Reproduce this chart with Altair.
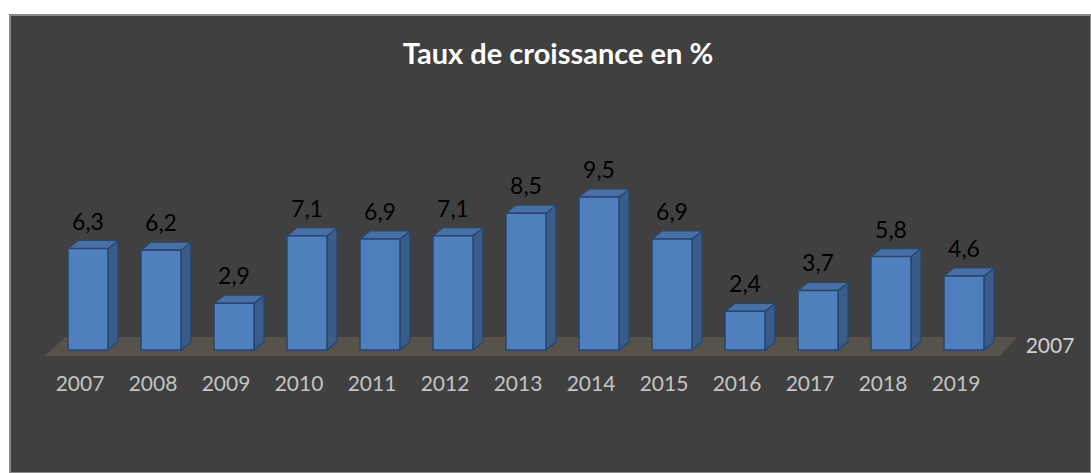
import altair as alt
import pandas as pd

# ---- data ----
years = [2007, 2008, 2009, 2010, 2011, 2012, 2013, 2014, 2015, 2016, 2017, 2018, 2019]
values = [6.3, 6.2, 2.9, 7.1, 6.9, 7.1, 8.5, 9.5, 6.9, 2.4, 3.7, 5.8, 4.6]
title_text = "Taux de croissance en %"
series_name = "2007"

# ---- geometry (in scale units) ----
HW = 0.274      # half width of a bar front face
DX = 0.137      # depth offset along x
DY = 0.5        # depth offset along y

front_rows, side_rows, top_rows = [], [], []
for i, (yr, v) in enumerate(zip(years, values)):
    front_rows.append({"i": i, "x": i - HW, "x2": i + HW, "v": v,
                       "year": str(yr), "label": f"{v:.1f}".replace(".", ",")})
    side_rows += [
        {"year": str(yr), "x": i + HW, "y": v, "y2": 0.0},
        {"year": str(yr), "x": i + HW + DX, "y": v + DY, "y2": DY},
    ]
    top_rows += [
        {"year": str(yr), "y": v, "x": i - HW, "x2": i + HW},
        {"year": str(yr), "y": v + DY, "x": i - HW + DX, "x2": i + HW + DX},
    ]

n = len(years)
floor_rows = [
    {"y": -0.37, "x": -0.59, "x2": n - 1 + 0.49},
    {"y": 0.81, "x": -0.31, "x2": n - 1 + 0.73},
]

front = pd.DataFrame(front_rows)
side = pd.DataFrame(side_rows)
top = pd.DataFrame(top_rows)
floor = pd.DataFrame(floor_rows)

W, H = 1081, 458
xs = alt.Scale(domain=[-78 / 73, (W - 78) / 73], nice=False, zero=False)
ys = alt.Scale(domain=[-(H - 335) / 16.1, 335 / 16.1], nice=False, zero=False)

FONT = "Lato"

floor_l = alt.Chart(floor).mark_area(orient="horizontal", color="#57534b").encode(
    y=alt.Y("y:Q", scale=ys, axis=None),
    x=alt.X("x:Q", scale=xs, axis=None),
    x2="x2:Q",
)

side_l = alt.Chart(side).mark_area(
    orient="vertical", color="#3a5c8a", stroke="#27456d", strokeWidth=1.2
).encode(
    x=alt.X("x:Q", scale=xs, axis=None),
    y=alt.Y("y:Q", scale=ys, axis=None),
    y2="y2:Q",
    detail="year:N",
)

top_l = alt.Chart(top).mark_area(
    orient="horizontal", color="#4870a6", stroke="#27456d", strokeWidth=1.2
).encode(
    y=alt.Y("y:Q", scale=ys, axis=None),
    x=alt.X("x:Q", scale=xs, axis=None),
    x2="x2:Q",
    detail="year:N",
)

front_l = alt.Chart(front).mark_rect(
    color="#4f7fbc", stroke="#27456d", strokeWidth=1.5
).encode(
    x=alt.X("x:Q", scale=xs, axis=None),
    x2="x2:Q",
    y=alt.Y("v:Q", scale=ys, axis=None),
    y2=alt.datum(0),
)

value_l = alt.Chart(front).mark_text(
    font=FONT, fontSize=23, color="#000000", baseline="alphabetic", dy=-19
).encode(
    x=alt.X("i:Q", scale=xs, axis=None),
    y=alt.Y("v:Q", scale=ys, axis=None),
    text="label:N",
)

xlab_l = alt.Chart(front).mark_text(
    font=FONT, fontSize=21, color="#c3c3c3", baseline="middle", dx=-8
).encode(
    x=alt.X("i:Q", scale=xs, axis=None),
    y=alt.value(370),
    text="year:N",
)

series_l = alt.Chart(pd.DataFrame({"t": [series_name]})).mark_text(
    font=FONT, fontSize=21, color="#d0d0d0", baseline="middle"
).encode(x=alt.value(1040), y=alt.value(332), text="t:N")

title_l = alt.Chart(pd.DataFrame({"t": [title_text]})).mark_text(
    font=FONT, fontSize=29, fontWeight="bold", color="#ffffff", baseline="middle"
).encode(x=alt.value(548), y=alt.value(40), text="t:N")

chart = alt.layer(
    floor_l, side_l, top_l, front_l, value_l, xlab_l, series_l, title_l
).properties(
    width=W, height=H,
    autosize="none",
    padding={"left": 10, "top": 15, "right": 0, "bottom": 0},
    background="#ffffff",
).configure_view(fill="#404040", stroke="#8a8a8a", strokeWidth=2)

chart.save("out.html", embed_options={"renderer": "svg", "actions": False})
